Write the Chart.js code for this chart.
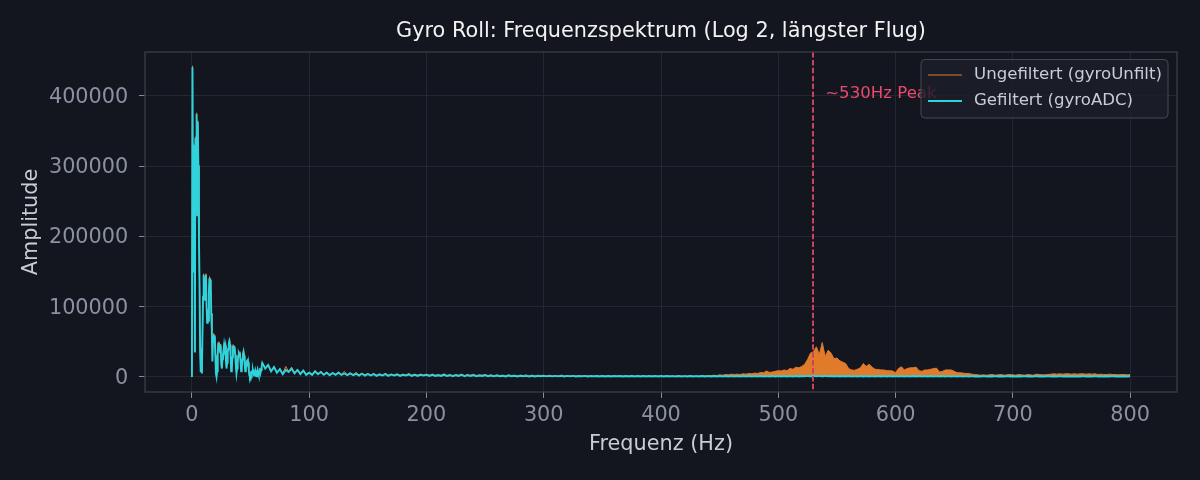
<!DOCTYPE html>
<html>
<head>
<meta charset="utf-8">
<title>Gyro Roll Frequenzspektrum</title>
<script src="https://cdn.jsdelivr.net/npm/chart.js@4.4.1/dist/chart.umd.min.js"></script>
<style>
  html, body { margin: 0; padding: 0; background: #13161f; }
  #wrap { width: 1200px; height: 480px; }
</style>
</head>
<body>
<div id="wrap"><canvas id="spektrum" width="1200" height="480"></canvas></div>
<script>
// Frequenzachse (Hz)
const freqHz = [
  0,0.5,1,1.5,2,2.5,3,3.5,4,4.5,5,5.5,6,6.5,7,7.5,8,8.5,9,9.5,
  10,10.5,11,11.5,12,12.5,13,13.5,14,14.5,15,15.5,16,16.5,17,17.5,18,18.5,19,19.5,
  20,20.5,21,21.5,22,22.5,23,23.5,24,24.5,25,25.5,26,26.5,27,27.5,28,28.5,29,29.5,
  30,30.5,31,31.5,32,32.5,33,33.5,34,34.5,35,35.5,36,36.5,37,37.5,38,38.5,39,39.5,
  40,40.5,41,41.5,42,42.5,43,43.5,44,44.5,45,45.5,46,46.5,47,47.5,48,48.5,49,49.5,
  50,50.5,51,51.5,52,52.5,53,53.5,54,54.5,55,55.5,56,56.5,57,57.5,58,58.5,59,59.5,
  60,62.5,65,67.5,70,72.5,75,77.5,80,82.5,85,87.5,90,92.5,95,97.5,100,
  102.5,105,107.5,110,112.5,115,117.5,120,122.5,125,127.5,130,132.5,135,137.5,140,142.5,145,147.5,150,
  152.5,155,157.5,160,162.5,165,167.5,170,172.5,175,177.5,180,182.5,185,187.5,190,192.5,195,197.5,200,
  202.5,205,207.5,210,212.5,215,217.5,220,222.5,225,227.5,230,232.5,235,237.5,240,242.5,245,247.5,250,
  252.5,255,257.5,260,262.5,265,267.5,270,272.5,275,277.5,280,282.5,285,287.5,290,292.5,295,297.5,300,
  302.5,305,307.5,310,312.5,315,317.5,320,322.5,325,327.5,330,332.5,335,337.5,340,342.5,345,347.5,350,
  352.5,355,357.5,360,362.5,365,367.5,370,372.5,375,377.5,380,382.5,385,387.5,390,392.5,395,397.5,400,
  402.5,405,407.5,410,412.5,415,417.5,420,422.5,425,427.5,430,432.5,435,437.5,440,442.5,445,447.5,450,
  452.5,455,457.5,460,462.5,465,467.5,470,472.5,475,477.5,480,482.5,485,487.5,490,492.5,495,497.5,500,
  502.5,505,507.5,510,512.5,515,517.5,520,522.5,525,527.5,530,532.5,535,537.5,540,542.5,545,547.5,550,
  552.5,555,557.5,560,562.5,565,567.5,570,572.5,575,577.5,580,582.5,585,587.5,590,592.5,595,597.5,600,
  602.5,605,607.5,610,612.5,615,617.5,620,622.5,625,627.5,630,632.5,635,637.5,640,642.5,645,647.5,650,
  652.5,655,657.5,660,662.5,665,667.5,670,672.5,675,677.5,680,682.5,685,687.5,690,692.5,695,697.5,700,
  702.5,705,707.5,710,712.5,715,717.5,720,722.5,725,727.5,730,732.5,735,737.5,740,742.5,745,747.5,750,
  752.5,755,757.5,760,762.5,765,767.5,770,772.5,775,777.5,780,782.5,785,787.5,790,792.5,795,797.5,800
];

// Amplitude in Tausend: Ungefiltert (gyroUnfilt)
const ungefiltert = [
  0,443,152,332,282,36,342,302,376,232,365,302,202,133,41,8,16,6,61,116,
  147,112,142,127,147,102,78,97,81,122,143,132,140,91,66,23,57,62,52,60,
  32,6,1,9,32,50,42,49,37,47,22,13,27,32,40,48,42,46,27,13,
  22,37,42,50,55,47,32,9,11,30,46,40,44,42,32,16,6,13,22,32,
  36,34,36,22,9,13,27,34,38,32,20,9,14,22,24,17,22,12,3,1,
  4,7,5,9,11,7,3,6,10,5,2,7,11,6,3,9,13,7,11,16,
  21,13,18,9,15,7,12,5,15,8,14,6,11,5,10,4,7,
  4,9,5,8,4,7,3.5,6.5,4,7,4,8,3.5,6,3.5,6.5,3,5.5,3,5,
  3,5,2.5,4.5,3,5,2.5,4,3,4.5,2.5,4,3,5,2.5,4,2.5,4,3,4,
  2.5,4,2.5,3.5,2.5,4.5,2,3.5,2,3.5,2.5,4,2,3.5,2.5,4,2,3,2.5,3.5,
  2,3,1.5,3,2,2.5,1.5,3,2,2.5,1.5,2.5,2,3,1.5,2.5,1.5,2.5,2,2.5,
  1.5,2.5,1.5,2,1.5,2.5,1.2,2,1.5,2.2,1.2,2,1.5,2,1.2,2,1.5,2,1.2,2,
  1.2,2,1.2,1.8,1.5,2,1,1.8,1.2,2.2,1,1.8,1.2,1.8,1,2,1.2,1.8,1,1.8,
  1,1.8,1.2,1.6,1,1.8,1.2,1.6,1.2,1.8,1,1.6,1.2,2,1.5,2,1.8,2.5,2,3,
  2.5,3.5,3,4,3.5,4,3.5,4.5,4,5,4.5,5.5,5,6.5,6,8.5,6.5,7,8,9,
  8.5,10,9,12,11,14,13,15,18,25,34,36,43,32,49,29,38,34,26,27,
  23,21,19,12,10,9.5,11,13,19,15,18,14,11,10.5,10,10,9,9,8.5,6,
  12,14.5,10,12,13,13,14,9,8,10,10,11,12,12.5,7,8,10,10,10,8,
  6,6,5.5,5,5,4,3.5,3,2.5,3,2.5,3,3.5,2.5,3,3.5,2.5,3,3.5,3,
  2.5,3.5,3,2.5,3.5,3,2.5,4,3.5,3,3,3.5,4,4.5,4,4.5,4,4.5,4.5,4,
  4.5,4,4.5,4.5,4,4.5,4,4.5,3.5,4,3.5,3.5,4,3.5,3.5,3,3.5,3.5,3,3.5
];

// Amplitude in Tausend: Gefiltert (gyroADC)
const gefiltert = [
  0,441,150,330,280,35,340,300,374,230,363,300,200,131,40,7,15,5,60,114,
  145,110,140,125,145,100,77,95,80,120,141,130,138,90,65,22,55,60,50,58,
  30,5,0,8,30,48,40,47,35,45,20,12,25,30,38,46,40,44,25,12,
  20,35,40,48,51,45,30,8,10,28,44,38,42,40,30,15,5,12,20,30,
  34,32,34,20,8,12,25,32,36,30,18,8,12,20,22,15,20,10,2,0,
  3,6,4,8,10,6,2,5,9,4,1,6,10,5,2,8,12,6,10,15,
  20,12,17,8,14,6,11,4,10,7,12,5,10,4,9,3,6,
  3,8,4,7,3,6,2.5,5.5,3,6,3,5,2.5,5,2.5,4.5,2,4.5,2,4,
  2,4,1.5,3.5,2,4,1.5,3.5,2,3.5,1.5,3,2,3.5,1.5,3,1.5,3,2,3,
  1.5,3,1.5,2.5,1.5,3,1.5,2.5,1,2.5,1.5,3,1,2.5,1.5,2.5,1,2,1.5,2.5,
  1,2,1,2,1,1.8,0.8,2,1,1.8,0.8,1.8,1,1.6,0.8,1.8,0.8,1.6,1,1.6,
  0.8,1.6,0.8,1.5,0.8,1.6,0.7,1.5,0.8,1.5,0.7,1.4,0.8,1.5,0.7,1.4,0.8,1.4,0.7,1.4,
  0.7,1.4,0.7,1.3,0.8,1.4,0.6,1.3,0.7,1.4,0.6,1.3,0.7,1.3,0.6,1.4,0.7,1.3,0.6,1.3,
  0.6,1.3,0.7,1.2,0.6,1.3,0.6,1.2,0.7,1.3,0.6,1.2,0.6,1.3,0.7,1.2,0.6,1.3,0.6,1.2,
  0.6,1.3,0.6,1.2,0.7,1.3,0.6,1.2,0.6,1.3,0.7,1.2,0.6,1.3,0.6,1.2,0.7,1.3,0.6,1.2,
  0.7,1.3,0.6,1.4,0.7,1.3,0.6,1.4,0.8,1.5,0.7,1.6,0.8,1.5,0.7,1.6,0.8,1.4,0.7,1.3,
  0.7,1.3,0.6,1.3,0.7,1.2,0.6,1.3,0.7,1.3,0.6,1.2,0.7,1.3,0.6,1.2,0.6,1.3,0.7,1.2,
  0.6,1.3,0.7,1.2,0.6,1.3,0.7,1.3,0.6,1.2,0.6,1.3,0.7,1.2,0.6,1.3,0.6,1.2,0.7,1.2,
  0.6,1.2,0.6,1.2,0.7,1.2,0.6,1.1,0.6,1.2,0.6,1.1,0.6,1.2,0.7,1.1,0.6,1.2,0.6,1.1,
  0.6,1.1,0.6,1.2,0.6,1.1,0.7,1.2,0.6,1.1,0.6,1.2,0.6,1.1,0.6,1.2,0.7,1.1,0.6,1.1,
  0.6,1.1,0.6,1.2,0.6,1.1,0.6,1.2,0.7,1.1,0.6,1.1,0.6,1.2,0.6,1.1,0.6,1.1,0.6,1.0
];

const xTicks = [0, 100, 200, 300, 400, 500, 600, 700, 800];
const yTicks = [0, 100000, 200000, 300000, 400000];

const titel = 'Gyro Roll: Frequenzspektrum (Log 2, längster Flug)';
const peakHz = 530;
const peakText = '~530Hz Peak';
const peakTextPos = { x: 540, y: 403000 };
const fillAbHz = 440; // ab hier wirkt das dichte Rauschen wie eine Fläche

const ORANGE = '#df7b2b';
const CYAN = '#2ed3dc';
const FONT = '"DejaVu Sans", "Liberation Sans", sans-serif';

function punkte(werte) {
    return freqHz.map(function (f, i) { return { x: f, y: werte[i] * 1000 }; });
}

const deko = {
    id: 'deko',
    afterDatasetsDraw(chart) {
        const { ctx, chartArea: a, scales: { x, y } } = chart;
        const px = Math.round(x.getPixelForValue(peakHz));
        ctx.save();
        // Peak-Markierung
        ctx.strokeStyle = '#c9425f';
        ctx.lineWidth = 2;
        ctx.setLineDash([5.5, 2.4]);
        ctx.beginPath();
        ctx.moveTo(px, a.top);
        ctx.lineTo(px, a.bottom);
        ctx.stroke();
        ctx.setLineDash([]);
        // Rahmen
        ctx.strokeStyle = '#3c3e45';
        ctx.lineWidth = 1.3;
        ctx.strokeRect(a.left, a.top, a.right - a.left, a.bottom - a.top);
        // Text
        ctx.fillStyle = '#ea4a6b';
        ctx.font = '16.6px ' + FONT;
        ctx.textBaseline = 'middle';
        ctx.textAlign = 'left';
        ctx.fillText(peakText, x.getPixelForValue(peakTextPos.x), y.getPixelForValue(peakTextPos.y));
        // Titel über der Plotfläche zentriert
        ctx.fillStyle = '#f2f2f2';
        ctx.font = '20.8px ' + FONT;
        ctx.textAlign = 'center';
        ctx.fillText(titel, (a.left + a.right) / 2, 31.3);
        ctx.restore();
    },
    afterDraw(chart) {
        // Legende oben rechts im Plotbereich
        const { ctx, chartArea: a } = chart;
        const sets = chart.data.datasets.slice().sort(function (p, q) { return p.legendPos - q.legendPos; });
        const w = 247, h = 58.5;
        const bx = a.right - 9 - w, by = a.top + 7.5;
        ctx.save();
        ctx.beginPath();
        if (ctx.roundRect) ctx.roundRect(bx, by, w, h, 4); else ctx.rect(bx, by, w, h);
        ctx.fillStyle = 'rgba(28,31,42,0.82)';
        ctx.fill();
        ctx.strokeStyle = '#45484f';
        ctx.lineWidth = 1;
        ctx.stroke();
        ctx.font = '16.6px ' + FONT;
        ctx.textBaseline = 'middle';
        ctx.textAlign = 'left';
        for (let i = 0; i < sets.length; i++) {
            const ly = by + 15.5 + i * 26;
            ctx.strokeStyle = sets[i].borderColor;
            ctx.lineWidth = sets[i].borderWidth;
            ctx.beginPath();
            ctx.moveTo(bx + 7, ly);
            ctx.lineTo(bx + 41, ly);
            ctx.stroke();
            ctx.fillStyle = '#c9cdd6';
            ctx.fillText(sets[i].label, bx + 53, ly);
        }
        ctx.restore();
    }
};

new Chart(document.getElementById('spektrum'), {
    type: 'line',
    data: {
        datasets: [{
            label: 'Ungefiltert (gyroUnfilt)',
            legendPos: 0,
            order: 2,
            data: punkte(ungefiltert),
            borderColor: ORANGE,
            backgroundColor: ORANGE,
            borderWidth: 1,
            fill: 'origin',
            segment: {
                backgroundColor: function (c) { return c.p0.parsed.x >= fillAbHz ? ORANGE : 'rgba(0,0,0,0)'; }
            }
        }, {
            label: 'Gefiltert (gyroADC)',
            legendPos: 1,
            order: 1,
            data: punkte(gefiltert),
            borderColor: CYAN,
            backgroundColor: CYAN,
            borderWidth: 1.9,
            fill: false
        }]
    },
    options: {
        responsive: false,
        animation: false,
        layout: { padding: { left: 0, right: 23, top: 52, bottom: 0 } },
        elements: { point: { radius: 0 }, line: { tension: 0 } },
        plugins: {
            legend: { display: false },
            tooltip: { enabled: false },
            title: { display: false }
        },
        scales: {
            x: {
                type: 'linear',
                min: -40,
                max: 840,
                afterFit: function (s) { s.height = 88; },
                afterBuildTicks: function (s) { s.ticks = xTicks.map(function (v) { return { value: v }; }); },
                grid: { color: '#242731', lineWidth: 1, tickLength: 6, tickColor: '#858b98' },
                border: { display: false },
                ticks: {
                    color: '#8a91a0',
                    font: { family: FONT, size: 20.8 },
                    padding: 5.2,
                    maxRotation: 0,
                    autoSkip: false,
                    callback: function (v) { return String(v); }
                },
                title: {
                    display: true,
                    text: 'Frequenz (Hz)',
                    color: '#c8ccd4',
                    font: { family: FONT, size: 20.8 },
                    padding: { top: 0, bottom: 22.5 }
                }
            },
            y: {
                min: -21400,
                max: 462600,
                afterFit: function (s) { s.width = 145; },
                afterBuildTicks: function (s) { s.ticks = yTicks.map(function (v) { return { value: v }; }); },
                grid: { color: '#242731', lineWidth: 1, tickLength: 6, tickColor: '#858b98' },
                border: { display: false },
                ticks: {
                    color: '#8a91a0',
                    font: { family: FONT, size: 20.8 },
                    padding: 10.7,
                    labelOffset: 1.5,
                    callback: function (v) { return String(v); }
                },
                title: {
                    display: true,
                    text: 'Amplitude',
                    color: '#c8ccd4',
                    font: { family: FONT, size: 20.8 },
                    padding: { top: 19.5, bottom: 0 }
                }
            }
        }
    },
    plugins: [deko]
});
</script>
</body>
</html>
